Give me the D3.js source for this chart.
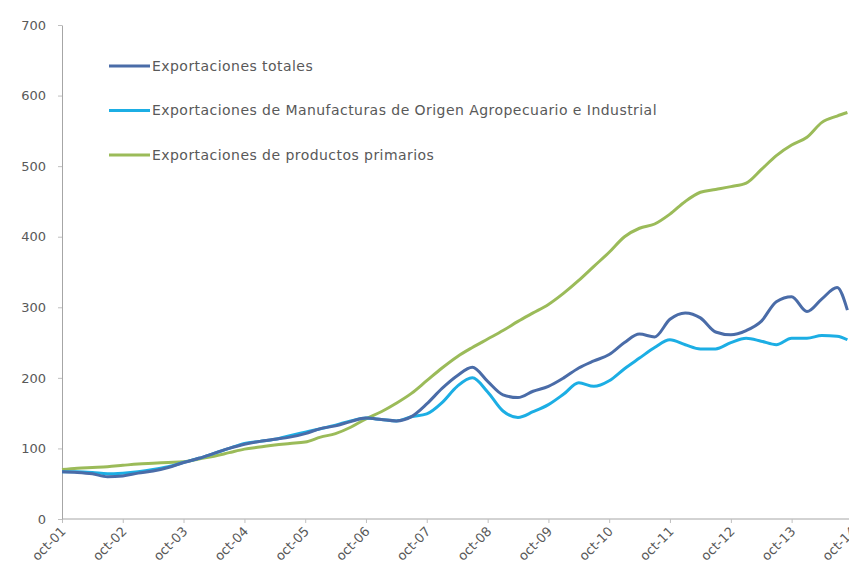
<!DOCTYPE html>
<html>
<head>
<meta charset="utf-8">
<script src="https://cdn.jsdelivr.net/npm/d3@7"></script>
<style>
  body { margin: 0; background: #fff; }
  text { font-family: "DejaVu Sans", sans-serif; fill: #595959; }
</style>
</head>
<body>
<div id="plot"></div>
<script>
const FRAME_WIDTH = 849;
const FRAME_HEIGHT = 581;
const MARGIN = {left: 62, right: -3, top: 25, bottom: 62};

// quarterly observations, oct-01 .. sep-14
const dates = ["2001-10","2002-01","2002-04","2002-07","2002-10","2003-01","2003-04","2003-07",
  "2003-10","2004-01","2004-04","2004-07","2004-10","2005-01","2005-04","2005-07",
  "2005-10","2006-01","2006-04","2006-07","2006-10","2007-01","2007-04","2007-07",
  "2007-10","2008-01","2008-04","2008-07","2008-10","2009-01","2009-04","2009-07",
  "2009-10","2010-01","2010-04","2010-07","2010-10","2011-01","2011-04","2011-07",
  "2011-10","2012-01","2012-04","2012-07","2012-10","2013-01","2013-04","2013-07",
  "2013-10","2014-01","2014-04","2014-07","2014-09"];

const totales = [67,66,64,60,61,65,68,73,80,86,93,100,106,110,113,116,121,128,132,138,
  143,141,139,145,163,185,203,215,195,176,172,181,188,200,214,224,233,250,262,258,
  283,292,285,265,261,267,280,308,315,294,312,328,296];

const manufacturas = [67,67,66,64,65,67,70,74,80,86,93,100,107,110,113,118,123,128,133,139,
  143,141,139,145,149,165,188,200,180,153,144,152,162,177,193,188,196,213,228,243,
  254,247,241,241,250,256,252,247,256,256,260,259,254];

const primarios = [70,72,73,74,76,78,79,80,81,85,89,94,99,102,105,107,109,116,121,130,
  142,152,164,178,196,214,230,243,255,267,280,292,304,320,338,358,378,400,412,418,
  432,450,463,467,471,476,495,515,530,541,562,571,576];

const seriesNames = ["Exportaciones totales",
  "Exportaciones de Manufacturas de Origen Agropecuario e Industrial",
  "Exportaciones de productos primarios"];
const seriesColors = ["#4a6ca8", "#1caee4", "#9bbb59"];

const xTickLabels = ["oct-01","oct-02","oct-03","oct-04","oct-05","oct-06","oct-07",
  "oct-08","oct-09","oct-10","oct-11","oct-12","oct-13","oct-14"];
const yTicks = [0, 100, 200, 300, 400, 500, 600, 700];

const parse = d3.timeParse("%Y-%m");
const xTickDates = xTickLabels.map(s => parse("20" + s.slice(4) + "-10"));

const FRAME = d3.select("#plot")
  .append("svg")
    .attr("width", FRAME_WIDTH)
    .attr("height", FRAME_HEIGHT);

const X_SCALE = d3.scaleTime()
  .domain([parse("2001-10"), parse("2014-10")])
  .range([MARGIN.left, 852.4]);

const Y_SCALE = d3.scaleLinear()
  .domain([0, 700])
  .range([FRAME_HEIGHT - MARGIN.bottom, MARGIN.top]);

// axes
const xAxis = FRAME.append("g")
  .attr("transform", "translate(0," + Y_SCALE(0) + ")")
  .call(d3.axisBottom(X_SCALE).tickValues(xTickDates).tickFormat((d, i) => xTickLabels[i])
    .tickSizeInner(4).tickSizeOuter(0));
xAxis.select(".domain").attr("stroke", "#a6a6a6").attr("d", "M" + MARGIN.left + ",0H" + FRAME_WIDTH);
xAxis.selectAll(".tick line").attr("stroke", "#bfbfbf");
xAxis.selectAll(".tick text")
  .attr("font-size", "13px")
  .attr("text-anchor", "end")
  .attr("x", 0)
  .attr("y", 0)
  .attr("dy", "0.35em")
  .attr("transform", "translate(1,10) rotate(-45)");

const yAxis = FRAME.append("g")
  .attr("transform", "translate(" + MARGIN.left + ",0)")
  .call(d3.axisLeft(Y_SCALE).tickValues(yTicks).tickSizeInner(4).tickSizeOuter(0).tickPadding(12));
yAxis.select(".domain").attr("stroke", "#a6a6a6");
yAxis.selectAll(".tick line").attr("stroke", "#bfbfbf");
yAxis.selectAll(".tick text").attr("font-size", "13px");

// lines
const allSeries = [totales, manufacturas, primarios];
const line = d3.line()
  .x((d, i) => X_SCALE(parse(dates[i])))
  .y(d => Y_SCALE(d))
  .curve(d3.curveMonotoneX);

// draw primarios first so blue lines sit on top
[2, 1, 0].forEach(k => {
  FRAME.append("path")
    .datum(allSeries[k])
    .attr("fill", "none")
    .attr("stroke", seriesColors[k])
    .attr("stroke-width", 3)
    .attr("stroke-linejoin", "round")
    .attr("d", line);
});

// legend
const legend = FRAME.append("g");
seriesNames.forEach((name, k) => {
  const y = 66 + k * 44.5;
  legend.append("line")
    .attr("x1", 109).attr("x2", 150)
    .attr("y1", y).attr("y2", y)
    .attr("stroke", seriesColors[k])
    .attr("stroke-width", 3);
  legend.append("text")
    .attr("x", 152).attr("y", y)
    .attr("dy", "0.35em")
    .attr("font-size", "14px")
    .attr("letter-spacing", "0.45px")
    .attr("fill", "#404040")
    .text(name);
});
</script>
</body>
</html>
